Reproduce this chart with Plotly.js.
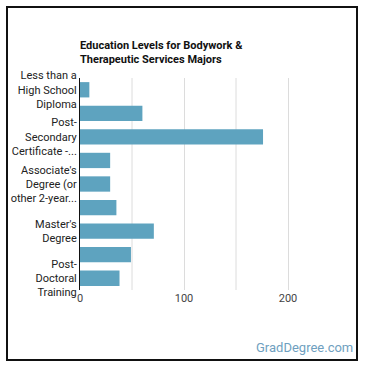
<!DOCTYPE html>
<html>
<head>
<meta charset="utf-8">
<script src="https://cdn.plot.ly/plotly-3.0.1.min.js"></script>
<style>
html,body{margin:0;padding:0;background:#fff;}
#wrap{position:relative;width:370px;height:370px;}
#chart{position:absolute;left:0;top:0;width:370px;height:370px;}
#frame{position:absolute;left:6px;top:6px;width:348px;height:351px;border:2px solid #111;pointer-events:none;}
</style>
</head>
<body>
<div id="wrap"><div id="chart"></div><div id="frame"></div></div>
<script>
const categories = [
  "Less than a High School Diploma",
  "High School Diploma",
  "Post-Secondary Certificate",
  "Some College Courses",
  "Associate's Degree",
  "Bachelor's Degree",
  "Master's Degree",
  "Doctoral Degree",
  "Post-Doctoral Training"
];
const values = [9, 60, 176, 29, 29, 35, 71, 49, 38];
const tickCategories = [
  "Less than a High School Diploma",
  "Post-Secondary Certificate",
  "Associate's Degree",
  "Master's Degree",
  "Post-Doctoral Training"
];
const tickLabels = [
  "Less than a<br>High School<br>Diploma",
  "Post-<br>Secondary<br>Certificate -...",
  "Associate's<br>Degree (or<br>other 2-year...",
  "Master's<br>Degree",
  "Post-<br>Doctoral<br>Training"
];
const xTicks = [0, 100, 200];

const data = [{
  type: 'bar',
  orientation: 'h',
  y: categories,
  x: values,
  marker: {color: '#5ea3bf'},
  hoverinfo: 'x'
}];

const layout = {
  width: 370, height: 370,
  margin: {l: 80, r: 30, t: 78, b: 80},
  paper_bgcolor: '#fff', plot_bgcolor: '#fff',
  font: {family: 'Roboto, sans-serif', size: 11, color: '#333'},
  bargap: 0.35,
  showlegend: false,
  title: {
    text: '<b>Education Levels for Bodywork &<br>Therapeutic Services Majors</b>',
    font: {family: 'Roboto, sans-serif', size: 11, color: '#111'},
    xref: 'paper', x: 0, xanchor: 'left',
    yref: 'container', y: 1 - 49/370, yanchor: 'middle'
  },
  xaxis: {
    range: [0, 250],
    tickvals: xTicks,
    ticktext: xTicks.map(String),
    showgrid: true, gridcolor: '#dcdcdc', gridwidth: 1,
    zeroline: false, showline: false,
    ticks: '', ticklen: 0,
    tickfont: {size: 11, color: '#444'},
    fixedrange: true
  },
  yaxis: {
    type: 'category',
    categoryorder: 'array', categoryarray: categories,
    autorange: 'reversed',
    tickvals: tickCategories,
    ticktext: tickLabels,
    showline: true, linecolor: '#111', linewidth: 1,
    showgrid: false, zeroline: false,
    ticks: '', ticklen: 0,
    tickfont: {size: 11, color: '#222'},
    fixedrange: true
  },
  shapes: [50, 150].map(v => ({
    type: 'line', xref: 'x', yref: 'paper', x0: v, x1: v, y0: 0, y1: 1,
    line: {color: '#dcdcdc', width: 1}, layer: 'below'
  })),
  annotations: [{
    text: 'GradDegree.com',
    xref: 'paper', yref: 'paper',
    x: 1 + 15/260, y: -57/212, xanchor: 'right', yanchor: 'middle',
    showarrow: false,
    font: {family: 'Roboto, sans-serif', size: 13, color: '#6f9fc0'}
  }]
};

Plotly.newPlot('chart', data, layout, {displayModeBar: false, staticPlot: true});
</script>
</body>
</html>
